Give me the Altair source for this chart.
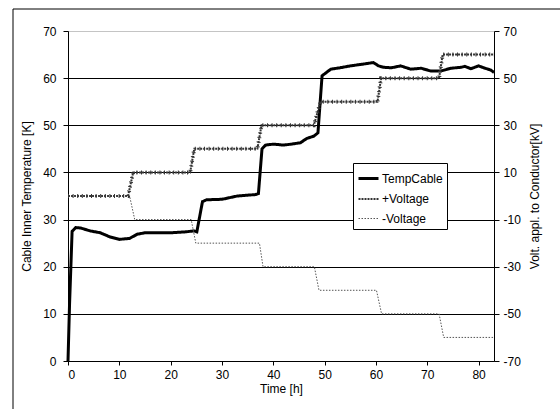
import altair as alt
import pandas as pd

# ---- data ----
temp_t = [0, 0.3, 0.8, 1.5, 2.5, 4.3, 6.3, 8.2, 10, 12, 13.5, 15, 20, 23, 24.5, 25.1,
          26.2, 27, 30, 33, 36.5, 37.1, 37.8, 38.5, 40, 42, 43.5, 45.3, 46.5, 47.9,
          48.7, 49.5, 51.2, 53, 55, 57, 59.5, 60.5, 61.5, 63, 64.8, 66.8, 68.8, 70.7,
          72.6, 74.6, 76.6, 77.3, 78.5, 80, 81, 82.4, 83.0]
temp_v = [0, 12, 27.5, 28.3, 28.2, 27.6, 27.2, 26.3, 25.8, 26.0, 26.9, 27.2, 27.2, 27.4,
          27.6, 27.4, 33.8, 34.2, 34.3, 35.0, 35.3, 35.5, 45.0, 45.8, 46.0, 45.8, 46.0,
          46.3, 47.2, 47.7, 48.4, 60.5, 61.9, 62.2, 62.6, 62.9, 63.3, 62.6, 62.3, 62.2,
          62.6, 61.9, 62.1, 61.5, 61.5, 62.1, 62.3, 62.5, 62.0, 62.6, 62.2, 61.7, 61.2]

pos_t = [0, 11.7, 12.7, 23.8, 24.6, 36.9, 37.7, 47.9, 49.2, 60.3, 61.0, 72.3, 73.0, 83.0]
pos_v = [0, 0, 10, 10, 20, 20, 30, 30, 40, 40, 50, 50, 60, 60]
neg_t = [0, 12.0, 13.0, 24.0, 24.9, 37.3, 38.0, 48.0, 48.9, 60.1, 61.1, 72.3, 73.2, 83.0]
neg_v = [0, 0, -10, -10, -20, -20, -30, -30, -40, -40, -50, -50, -60, -60]

series = ["TempCable", "+Voltage", "-Voltage"]
x_ticks = [0, 10, 20, 30, 40, 50, 60, 70, 80]
left_ticks = [0, 10, 20, 30, 40, 50, 60, 70]
right_ticks = [-70, -50, -30, -10, 10, 30, 50, 70]

temp_df = pd.DataFrame({"t": temp_t, "v": temp_v, "series": "TempCable", "order": range(len(temp_t))})
volt_df = pd.concat([
    pd.DataFrame({"t": pos_t, "v": pos_v, "series": "+Voltage", "order": range(len(pos_t))}),
    pd.DataFrame({"t": neg_t, "v": neg_v, "series": "-Voltage", "order": range(len(neg_t))}),
])

FONT = "Liberation Sans"

color = alt.Color("series:N", scale=alt.Scale(domain=series, range=["#000000", "#333333", "#555555"]),
                  legend=alt.Legend(title=None, orient="none", legendX=285, legendY=132,
                                    symbolType="stroke", symbolSize=400, labelFontSize=12,
                                    labelFont=FONT, labelColor="black", strokeColor="black",
                                    fillColor="white", padding=4, rowPadding=3, labelOffset=2))
dash = alt.StrokeDash("series:N", scale=alt.Scale(domain=series, range=[[1, 0], [2, 1], [1.5, 1.5]]))
width = alt.StrokeWidth("series:N", scale=alt.Scale(domain=series, range=[3, 1, 1]))

xenc = alt.X("t:Q", scale=alt.Scale(domain=[0, 83], nice=False, zero=False),
             axis=alt.Axis(values=x_ticks, title="Time [h]", grid=False, tickSize=4,
                           labelPadding=4, titlePadding=3))

temp_line = alt.Chart(temp_df).mark_line(interpolate="linear").encode(
    x=xenc,
    y=alt.Y("v:Q", scale=alt.Scale(domain=[0, 70], nice=False),
            axis=alt.Axis(values=left_ticks, title="Cable Inner Temperature [K]", orient="left",
                          tickSize=5, labelPadding=7, titlePadding=9,
                          gridColor=alt.condition("datum.value == 70", alt.value("#888888"), alt.value("#000000")),
                          gridDash=alt.condition("datum.value == 70", alt.value([1, 1]), alt.value([])))),
    color=color, strokeDash=dash, strokeWidth=width, order="order:Q",
)

yv = alt.Y("v:Q", scale=alt.Scale(domain=[-70, 70], nice=False),
           axis=alt.Axis(values=right_ticks, title="Volt. appl. to Conductor[kV]", orient="right",
                         grid=False, tickSize=5, labelPadding=4, titlePadding=9,
                         titleAngle=270, titleBaseline="top", labelExpr="'' + datum.value"))

volt_lines = alt.Chart(volt_df).mark_line(interpolate="linear").encode(
    x=alt.X("t:Q"), y=yv, color=color, strokeDash=dash, strokeWidth=width, detail="series:N",
    order="order:Q",
)
plus_ticks = alt.Chart(volt_df).transform_filter("datum.series == '+Voltage'").mark_line(
    color="#333333", strokeWidth=4, strokeDash=[1, 3.6]
).encode(x=alt.X("t:Q"), y=alt.Y("v:Q"), order="order:Q")

volt_layer = alt.layer(volt_lines, plus_ticks)

frame_df = pd.DataFrame({"k": [0]})
top_rule = alt.Chart(frame_df).mark_rule(color="black", strokeWidth=1).encode(
    x=alt.value(-55), x2=alt.value(600), y=alt.value(-22))
left_rule = alt.Chart(frame_df).mark_rule(color="black", strokeWidth=1).encode(
    x=alt.value(-55), y=alt.value(-22), y2=alt.value(400))

chart = alt.layer(temp_line, volt_layer, top_rule, left_rule).resolve_scale(
    y="independent"
).properties(
    width=426, height=330,
    autosize=alt.AutoSizeParams(type="none"),
    padding={"left": 68, "top": 31, "right": 66, "bottom": 48},
    background="white",
).configure_view(stroke=None).configure_axis(
    labelFont=FONT, titleFont=FONT, labelFontSize=12, titleFontSize=12,
    labelColor="black", titleColor="black", titleFontWeight="normal",
    domainColor="black", tickColor="black", gridColor="black", gridWidth=1,
)

chart.save("out.html", embed_options={"renderer": "svg", "actions": False})
